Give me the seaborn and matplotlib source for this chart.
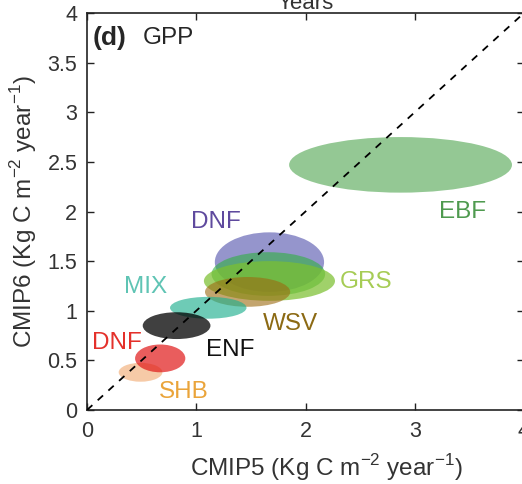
import matplotlib
matplotlib.use("Agg")
import matplotlib.pyplot as plt
from matplotlib.patches import Ellipse
import numpy as np
import pandas as pd
import seaborn as sns

# GPP per biome: CMIP5 (x) vs CMIP6 (y), ellipse centre and half-spread
biomes = ["EBF", "DNF", "CRO", "GRS", "WSV", "MIX", "ENF", "SHB", "DNF2"]
cmip5_mean = [2.87, 1.67, 1.66, 1.67, 1.47, 1.11, 0.82, 0.49, 0.67]
cmip6_mean = [2.47, 1.49, 1.37, 1.30, 1.19, 1.03, 0.85, 0.38, 0.52]
cmip5_spread = [1.02, 0.50, 0.52, 0.60, 0.39, 0.35, 0.31, 0.20, 0.23]
cmip6_spread = [0.28, 0.30, 0.22, 0.20, 0.15, 0.11, 0.135, 0.095, 0.14]
face_colors = ["#3c9c3c", "#4848a8", "#30b040", "#7cc030", "#9c6a10",
               "#20b090", "#000000", "#f0a060", "#e01818"]
face_alpha = [0.55, 0.58, 0.6, 0.72, 0.6, 0.65, 0.75, 0.55, 0.7]

# text labels for the biomes
label_text = ["EBF", "DNF", "GRS", "WSV", "MIX", "ENF", "SHB", "DNF"]
label_x = [3.44, 1.18, 2.55, 1.86, 0.54, 1.31, 0.89, 0.27]
label_y = [2.00, 1.89, 1.29, 0.87, 1.24, 0.60, 0.18, 0.68]
label_colors = ["#4f9a4f", "#5f4a9e", "#a6cc55", "#8c6a14", "#5fc4b4",
                "#111111", "#eaa43a", "#e4312b"]

ticks_x = [0, 1, 2, 3, 4]
ticks_y = [0, 0.5, 1, 1.5, 2, 2.5, 3, 3.5, 4]
tick_labels_y = ["0", "0.5", "1", "1.5", "2", "2.5", "3", "3.5", "4"]

sns.set_style("ticks")
plt.rcParams["font.family"] = ["Liberation Sans", "DejaVu Sans"]
plt.rcParams["mathtext.fontset"] = "custom"
plt.rcParams["mathtext.rm"] = "Liberation Sans"

fig = plt.figure(figsize=(5.22, 4.84), dpi=100)
ax = fig.add_axes([87 / 522, 74 / 484, 437 / 522, 397 / 484])

for cx, cy, sx, sy, fc, a in zip(cmip5_mean, cmip6_mean, cmip5_spread,
                                 cmip6_spread, face_colors, face_alpha):
    ax.add_patch(Ellipse((cx, cy), 2 * sx, 2 * sy, facecolor=fc,
                         alpha=a, edgecolor="none", zorder=2))

# 1:1 reference line
one_to_one = pd.DataFrame({"x": [0, 4], "y": [0, 4]})
sns.lineplot(data=one_to_one, x="x", y="y", ax=ax, color="black",
             linestyle=(0, (4, 4)), linewidth=1.3, zorder=5)

for t, x, y, c in zip(label_text, label_x, label_y, label_colors):
    ax.text(x, y, t, color=c, fontsize=17.5, ha="center", va="center",
            zorder=6)

ax.text(0.05, 3.75, "(d)", fontsize=19, fontweight="bold", ha="left",
        va="center")
ax.text(0.51, 3.75, "GPP", fontsize=17.5, ha="left", va="center")

ax.set_xlim(0, 4)
ax.set_ylim(0, 4)
ax.set_xticks(ticks_x)
ax.set_yticks(ticks_y)
ax.set_yticklabels(tick_labels_y)
ax.tick_params(direction="in", length=5, width=1, labelsize=15.5,
               top=True, right=True, colors="#222222", labelcolor="#333333")
ax.tick_params(axis="x", pad=8)
ax.tick_params(axis="y", pad=7)
for s in ax.spines.values():
    s.set_linewidth(1.2)
    s.set_color("#222222")

ax.set_xlabel(r"CMIP5 (Kg C m$^{-2}$ year$^{-1}$)", fontsize=17.5,
              color="#333333")
ax.xaxis.set_label_coords((326 - 87) / 437, -42 / 397)
ax.set_ylabel(r"CMIP6 (Kg C m$^{-2}$ year$^{-1}$)", fontsize=17.5,
              color="#333333", labelpad=6)

fig.text(306 / 522, 1 - 9 / 484, "Years", fontsize=16, ha="center",
         va="baseline", color="#333333")

fig.savefig("out.png", dpi=100)
